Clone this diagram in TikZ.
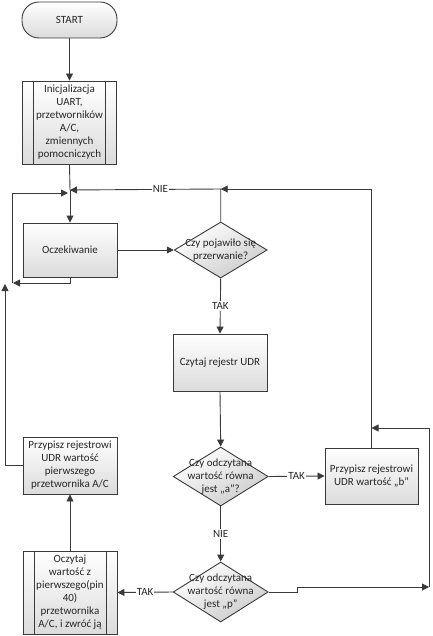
\documentclass[tikz,border=0pt]{standalone}
\usepackage{fontspec}
\setmainfont{Carlito}
\usetikzlibrary{arrows.meta,shapes.geometric,calc}
\definecolor{lin}{HTML}{3A3A3A}
\definecolor{txt}{HTML}{262626}
\tikzset{
  base/.style={draw=lin,line width=0.9pt,text=txt,align=center,inner sep=1pt,
    font=\fontsize{11}{13}\selectfont},
  boxshade/.style={top color=white,bottom color=black!14,shading angle=0},
  procbox/.style={base,boxshade,rectangle,minimum width=94pt},
  termbox/.style={base,boxshade,rectangle,rounded corners=17pt,minimum width=95pt,minimum height=36pt},
  decbox/.style={base,diamond,aspect=1.6,inner sep=0pt,minimum width=95pt,
    top color=white,bottom color=black!20,shading angle=30},
  dtext/.style={text=txt,align=center,font=\fontsize{11}{13}\selectfont},
  conn/.style={draw=lin,line width=0.9pt},
  arr/.style={conn,-{Triangle[length=7pt,width=7pt]}},
  lbl/.style={fill=white,text=txt,inner sep=1pt,font=\fontsize{11}{13}\selectfont},
}
\newcommand{\subbars}[1]{%
  \draw[lin,line width=0.9pt] ($(#1.north west)+(11.5,0)$) -- ($(#1.south west)+(11.5,0)$);
  \draw[lin,line width=0.9pt] ($(#1.north east)+(-11.5,0)$) -- ($(#1.south east)+(-11.5,0)$);}
\begin{document}
\begin{tikzpicture}[x=1pt,y=-1pt]
\useasboundingbox (0,0) rectangle (432,636);
% nodes
\node[termbox] (start) at (69.5,20) {START};
\node[procbox,minimum height=83pt] (init) at (69.5,122.5) {Inicjalizacja\\UART,\\przetworników\\A/C,\\zmiennych\\pomocniczych};
\subbars{init}
\node[procbox,minimum height=54pt] (wait) at (70,250) {Oczekiwanie};
\node[decbox,minimum width=93pt,minimum height=56pt] (d1) at (220.7,250) {};
\node[dtext] (d1t) at (d1.center) {Czy pojawiło się\\przerwanie?};
\node[procbox,minimum height=57pt] (read) at (220,362.5) {Czytaj rejestr UDR};
\node[decbox,minimum height=59pt] (d2) at (220.7,476.5) {};
\node[dtext] (d2t) at (d2.center) {Czy odczytana\\wartość równa\\jest „a”?};
\node[procbox,minimum width=93pt,minimum height=56pt] (boxb) at (371.5,476) {Przypisz rejestrowi\\UDR wartość „b”};
\node[decbox,minimum height=60pt] (d3) at (220.7,592) {};
\node[dtext] (d3t) at (d3.center) {Czy odczytana\\wartość równa\\jest „p”};
\node[procbox,minimum height=83pt] (ocz) at (70,592.5) {Oczytaj\\wartość z\\pierwszego(pin\\40)\\przetwornika\\A/C, i zwróć ją};
\subbars{ocz}
\node[procbox,minimum height=57pt] (asg) at (70,465.5) {Przypisz rejestrowi\\UDR wartość\\pierwszego\\przetwornika A/C};
% coordinates
\coordinate (j1) at (70,190);
\coordinate (jl) at (68,193);
\coordinate (lt) at (12,193);
\coordinate (lb) at (12,283);
\coordinate (wb) at (70,283);
\coordinate (le) at (13,283);
\coordinate (up) at (5,284);
\coordinate (d1top) at (220.7,189);
\coordinate (rtop) at (371.5,189);
\coordinate (rin) at (371.5,428);
\coordinate (rr) at (429,428);
\coordinate (rb) at (429,587);
\coordinate (jg1) at (297,592);
\coordinate (jg2) at (297,587);
% connectors
\draw[arr] (start) -- (init);
\draw[conn] (init.south) -- (j1);
\draw[arr] (j1) -- (wait.north);
\draw[arr] (d1.north) -- (d1top) -- node[lbl,pos=0.4]{NIE} (j1);
\draw[arr] (wait.south) -- (wb) -- (le);
\draw[arr] (lb) -- (lt) -- (jl);
\draw[arr] (wait.east) -- (d1.west);
\draw[arr] (d1.south) -- node[lbl,pos=0.5]{TAK} (read.north);
\draw[arr] (read.south) -- (d2.north);
\draw[arr] (d2.east) -- node[lbl]{TAK} (boxb.west);
\draw[arr] (boxb.north) -- (rtop) -- (d1top);
\draw[arr] (d2.south) -- node[lbl]{NIE} (d3.north);
\draw[arr] (d3.west) -- node[lbl,pos=0.5]{TAK} (ocz.east);
\draw[arr] (ocz.north) -- (asg.south);
\draw[arr] (asg.west) -| (up);
\draw[arr] (d3.east) -- (jg1) -- (jg2) -- (rb);
\draw[arr] (rb) -- (rr) -- (rin);
\end{tikzpicture}
\end{document}
